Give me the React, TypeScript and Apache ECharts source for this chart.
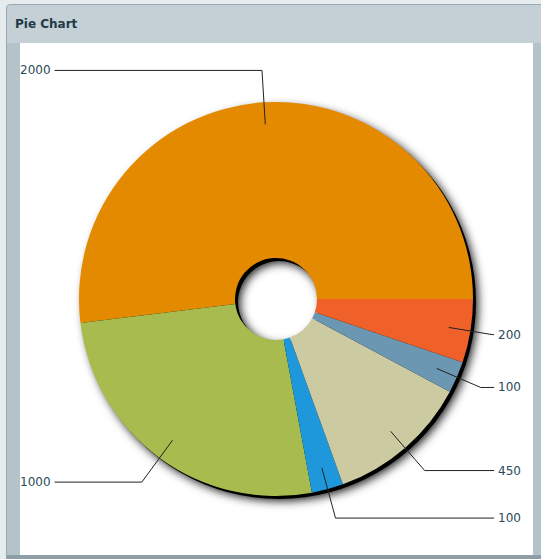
import React, { useEffect, useRef } from "react";
import * as echarts from "echarts";

const categories = ["A", "B", "C", "D", "E", "F"];
const values = [2000, 1000, 100, 450, 100, 200];
const colors = ["#E48A00", "#A7BB4E", "#1E98DA", "#CCCAA0", "#6B97B2", "#F0612A"];
const lineLengths = [54, 52, 52, 52, 48, 44];
const titleText = "Pie Chart";

export default function App() {
  const ref = useRef<HTMLDivElement>(null);
  useEffect(() => {
    if (!ref.current) return;
    const chart = echarts.init(ref.current, null, { renderer: "svg" });
    const cx = 276;
    const cy = 299;
    const data = categories.map((c, i) => ({
      name: c,
      value: values[i],
      itemStyle: { color: colors[i] },
    }));
    chart.setOption({
      animation: false,
      backgroundColor: "#E6EBEE",
      title: {
        text: titleText,
        left: 15,
        top: 18,
        padding: 0,
        textStyle: {
          fontFamily: "DejaVu Sans",
          fontSize: 12,
          fontWeight: "bold",
          color: "#1E3A46",
        },
      },
      graphic: [
        {
          type: "rect",
          z: 0,
          shape: { x: 6.5, y: 4.5, width: 540, height: 560, r: [4, 0, 0, 0] },
          style: { fill: "#C4CFD6", stroke: "#97A8B2", lineWidth: 1 },
        },
        {
          type: "rect",
          z: 0,
          shape: { x: 7, y: 43, width: 13, height: 512 },
          style: { fill: "#B4C2CA" },
        },
        {
          type: "rect",
          z: 0,
          shape: { x: 533, y: 43, width: 8, height: 512 },
          style: { fill: "#B4C2CA" },
        },
        {
          type: "rect",
          z: 0,
          shape: { x: 7, y: 555, width: 534, height: 4 },
          style: { fill: "#8E9EA7" },
        },
        {
          type: "rect",
          z: 0,
          shape: { x: 20, y: 43, width: 513, height: 512 },
          style: { fill: "#FFFFFF" },
        },
      ],
      series: [
        {
          type: "pie",
          silent: true,
          z: 2,
          left: 0,
          top: 0,
          right: 0,
          bottom: 0,
          center: [cx + 3, cy + 3],
          radius: [41, 197],
          label: { show: false },
          labelLine: { show: false },
          itemStyle: {
            color: "#000",
            shadowBlur: 10,
            shadowOffsetX: 2,
            shadowOffsetY: 2,
            shadowColor: "rgba(0,0,0,0.9)",
          },
          data: [{ name: "shadow", value: 1 }],
        },
        {
          type: "pie",
          silent: true,
          z: 3,
          left: 0,
          top: 0,
          right: 0,
          bottom: 0,
          center: [cx, cy],
          radius: [41, 197],
          startAngle: 0,
          clockwise: false,
          label: { show: false },
          labelLine: { show: false },
          itemStyle: { borderWidth: 0 },
          data,
        },
        {
          type: "pie",
          silent: true,
          z: 5,
          left: 0,
          top: 0,
          right: 0,
          bottom: 0,
          center: [cx, cy],
          radius: [0, 175],
          startAngle: 0,
          clockwise: false,
          avoidLabelOverlap: true,
          itemStyle: { color: "rgba(0,0,0,0)", borderWidth: 0 },
          label: {
            show: true,
            position: "outside",
            formatter: "{c}",
            alignTo: "edge",
            edgeDistance: 20,
            distanceToLabelLine: 4,
            overflow: "none",
            fontFamily: "DejaVu Sans",
            fontSize: 12,
            color: "#2A4A58",
          },
          labelLine: {
            show: true,
            length: 51,
            length2: 0,
            lineStyle: { color: "#222", width: 1 },
          },
          data: categories.map((c, i) => ({
            name: c,
            value: values[i],
            labelLine: { length: lineLengths[i], length2: 0 },
          })),
        },
      ],
    });
    return () => chart.dispose();
  }, []);
  return (
    <div
      ref={ref}
      style={{ position: "fixed", left: 0, top: 0, width: 541, height: 559 }}
    />
  );
}
